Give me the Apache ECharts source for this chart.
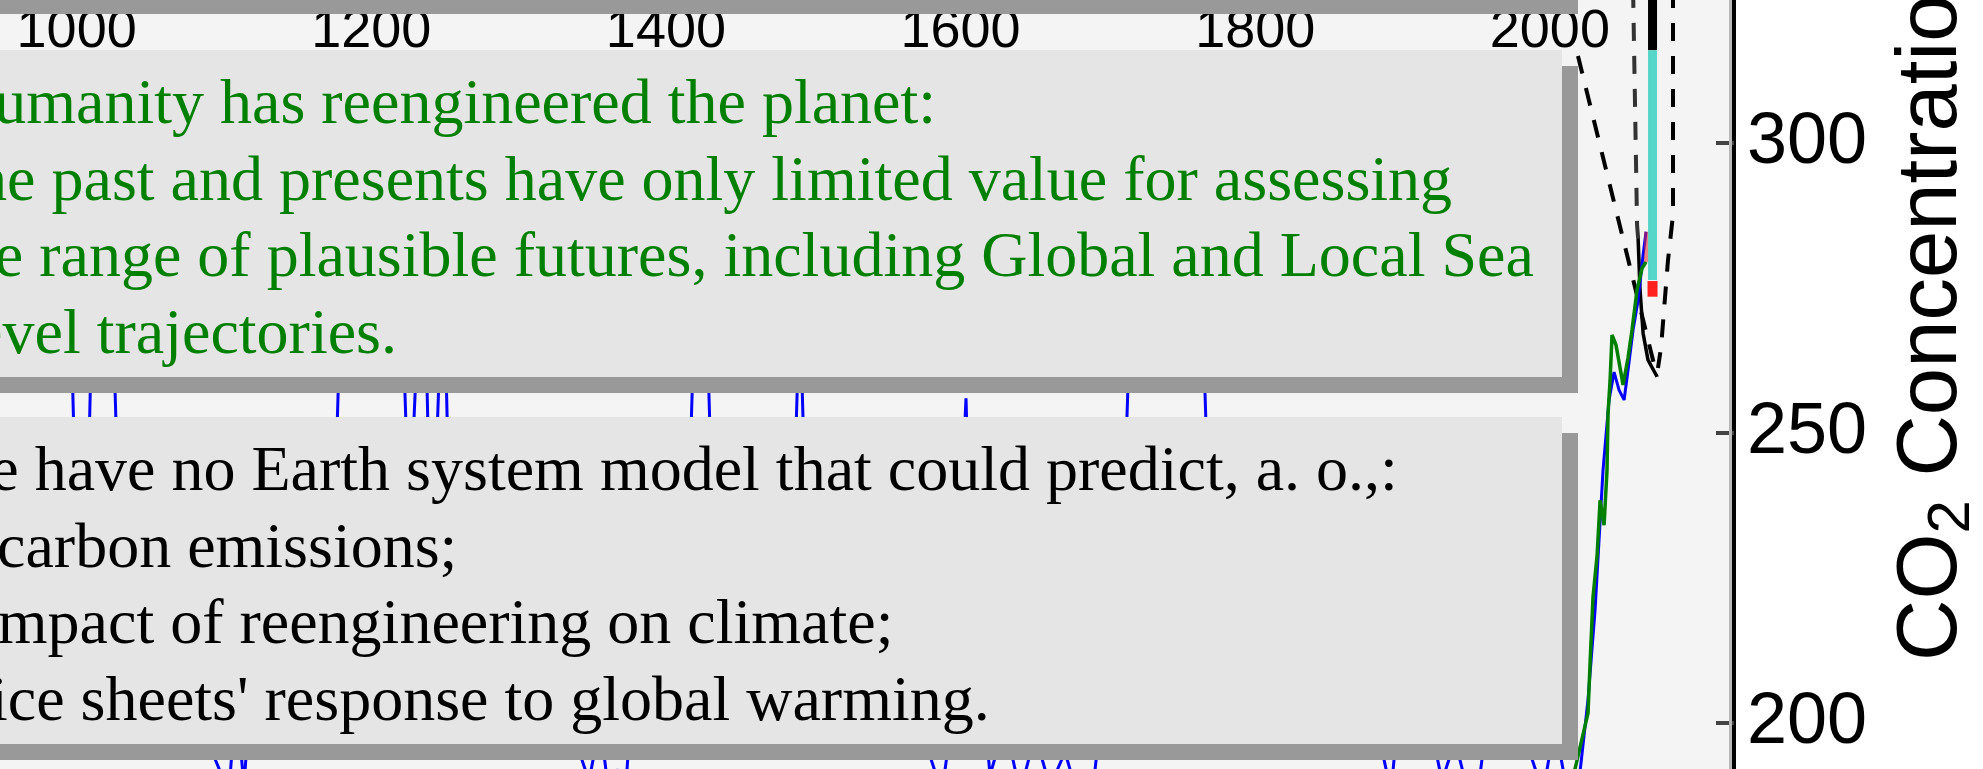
<!DOCTYPE html>
<html>
<head>
<meta charset="utf-8">
<script src="https://cdn.jsdelivr.net/npm/echarts@6/dist/echarts.min.js"></script>
<style>
  html, body { margin: 0; padding: 0; background: #fff; }
  #chart { width: 1983px; height: 769px; }
</style>
</head>
<body>
<div id="chart"></div>
<script>
// tick labels
var yearTicks = [1000, 1200, 1400, 1600, 1800, 2000];
var co2Ticks = [200, 250, 300];

// CO2 record (blue), [x, ppm]
var blueRecord = [
  [934.4, 275], [961.6, 268], [981.9, 280], [996.9, 262], [999.6, 235], [1003.7, 228],
  [1007.7, 240], [1010.4, 270], [1018.6, 262], [1024.0, 275], [1028.1, 240], [1043.0, 225],
  [1063.4, 210], [1083.8, 200], [1103.4, 188], [1108.2, 205], [1113.6, 189], [1119.1, 210],
  [1138.1, 222], [1158.4, 235], [1176.1, 245], [1178.8, 268], [1199.2, 280], [1222.2, 262],
  [1225.0, 240], [1227.7, 245], [1231.7, 268], [1237.2, 265], [1239.9, 235], [1244.0, 245],
  [1246.7, 265], [1250.1, 268], [1252.8, 238], [1273.8, 225], [1301.0, 215], [1328.1, 205],
  [1347.8, 190], [1355.3, 200], [1360.7, 189], [1367.5, 192], [1372.3, 187], [1377.0, 205],
  [1396.0, 225], [1416.4, 245], [1419.1, 268], [1423.2, 272], [1428.6, 262], [1431.3, 238],
  [1457.1, 228], [1487.0, 240], [1489.7, 262], [1491.7, 265], [1494.4, 240], [1525.0, 220],
  [1558.9, 210], [1587.4, 188], [1596.3, 205], [1601.7, 245], [1603.7, 256], [1606.4, 230],
  [1620.0, 191], [1630.2, 200], [1640.4, 188], [1650.6, 198], [1660.7, 189], [1670.9, 195],
  [1681.1, 186], [1691.3, 192], [1694.7, 200], [1704.9, 230], [1712.3, 248], [1715.0, 268],
  [1735.4, 282], [1755.8, 270], [1765.3, 262], [1768.0, 240], [1803.3, 228], [1844.0, 215],
  [1878.0, 205], [1892.2, 188], [1898.3, 205], [1918.7, 200], [1926.8, 190], [1935.7, 197],
  [1944.5, 188], [1952.6, 191], [1959.4, 205], [1979.8, 200], [1995.4, 188], [2003.5, 200],
  [2010.3, 190], [2019.1, 188.4], [2025.9, 204], [2030.7, 219.5], [2033.4, 231.6], [2036.1, 243.6],
  [2040.2, 255.7], [2043.6, 260.5], [2047.0, 257.4], [2050.4, 255.7], [2053.1, 260.9], [2056.5, 267.8],
  [2059.9, 272.9], [2063.3, 280.7], [2065.3, 284.7]
];

// green record
var greenRecord = [
  [2006.9, 186.7], [2017.1, 192.1], [2025.9, 201.7], [2027.3, 210.3], [2029.3, 221.7], [2032.1, 229.0],
  [2034.1, 238.4], [2036.8, 234.1], [2038.8, 243.6], [2039.5, 253.4], [2040.9, 259.1], [2042.2, 266.9],
  [2044.9, 265.2], [2049.7, 258.3], [2053.1, 263.0], [2055.8, 267.8], [2059.2, 274.7], [2062.6, 278.4],
  [2065.3, 279.5]
];

// black solid segment
var blackLine = [[2059.9, 283.6], [2061.2, 274.7], [2063.3, 267.2], [2066.6, 262.6], [2072.8, 259.7]];

// dashed scenario lines
var dashedLeft = [[2019.1, 315.0], [2072.8, 259.7]];
var dashedMid = [[2056.5, 326.4], [2059.2, 285.9], [2059.9, 283.6]];
var dashedRight = [[2083.6, 326.4], [2083.6, 287.6], [2080.2, 279.8], [2077.5, 271.2], [2075.5, 264.8], [2073.4, 261.2]];

// vertical range bar
var barBlack = [[2069.7, 330], [2069.7, 316.0]];
var barCyan = [[2069.7, 316.0], [2069.7, 276.4]];
var barRed = [[2069.7, 276.2], [2069.7, 273.5]];
var redMark = [[2065.3, 284.7], [2065.3, 279.5]];

// annotation texts: [text, left x]
var box1Lines = [
  ['Humanity has reengineered the planet:', -52],
  ['The past and presents have only limited value for assessing', -64],
  ['the range of plausible futures, including Global and Local Sea', -55],
  ['Level trajectories.', -65]
];
var box2Lines = [
  ['We have no Earth system model that could predict, a. o.,:', -65],
  ['carbon emissions;', -3],
  ['impact of reengineering on climate;', -20],
  ['ice sheets\' response to global warming.', -10]
];

var chart = echarts.init(document.getElementById('chart'));

function lineSeries(name, data, color, width, dash, z) {
  return {
    name: name,
    type: 'line',
    data: data,
    showSymbol: false,
    symbol: 'none',
    z: z || 2,
    lineStyle: { color: color, width: width, type: dash || 'solid', cap: 'butt' }
  };
}

var graphics = [
  { type: 'rect', z: 10, shape: { x: -10, y: -30, width: 1588, height: 44 }, style: { fill: '#999999' } },
  { type: 'rect', z: 10, shape: { x: -10, y: 66, width: 1588, height: 327 }, style: { fill: '#999999' } },
  { type: 'rect', z: 11, shape: { x: -10, y: 50, width: 1572, height: 327 }, style: { fill: '#e5e5e5' } },
  { type: 'rect', z: 10, shape: { x: -10, y: 433, width: 1588, height: 327 }, style: { fill: '#999999' } },
  { type: 'rect', z: 11, shape: { x: -10, y: 417, width: 1572, height: 327 }, style: { fill: '#e5e5e5' } },
  { type: 'rect', z: 10, shape: { x: 1729, y: 0, width: 3, height: 769 }, style: { fill: '#b8b8b8' } },
  {
    type: 'text', z: 12, x: 1882.5, y: 661, rotation: Math.PI / 2,
    style: {
      text: '{a|CO}{s|2}{a| Concentration (ppm)}',
      align: 'left', verticalAlign: 'top',
      rich: {
        a: { fontSize: 85, fontFamily: 'Liberation Sans', lineHeight: 100, verticalAlign: 'middle', fill: '#000' },
        s: { fontSize: 60, fontFamily: 'Liberation Sans', lineHeight: 60, verticalAlign: 'bottom', fill: '#000' }
      }
    }
  }
];

var box1Y = [106.5, 183, 259.5, 336];
box1Lines.forEach(function(l, i) {
  graphics.push({
    type: 'text', z: 12, x: l[1], y: box1Y[i],
    style: { text: l[0], fill: '#008000', fontSize: 64, fontFamily: 'Liberation Serif', align: 'left', verticalAlign: 'middle' }
  });
});
var box2Y = [473.5, 550, 626.5, 703];
box2Lines.forEach(function(l, i) {
  graphics.push({
    type: 'text', z: 12, x: l[1], y: box2Y[i],
    style: { text: l[0], fill: '#000000', fontSize: 64, fontFamily: 'Liberation Serif', align: 'left', verticalAlign: 'middle' }
  });
});

var option = {
  backgroundColor: '#ffffff',
  animation: false,
  grid: {
    left: -218, right: 249, top: -147, bottom: -244,
    show: true, backgroundColor: '#f4f4f4', borderWidth: 0,
    containLabel: false, outerBoundsMode: 'none'
  },
  xAxis: {
    type: 'value',
    position: 'top',
    offset: -179,
    min: 800,
    max: 2125,
    interval: 200,
    axisLine: { show: false },
    axisTick: { show: false },
    splitLine: { show: false },
    axisLabel: {
      margin: 0,
      verticalAlign: 'middle',
      fontFamily: 'Liberation Sans',
      fontSize: 54,
      color: '#000',
      formatter: function(v) { return yearTicks.indexOf(v) >= 0 ? String(v) : ''; }
    }
  },
  yAxis: {
    type: 'value',
    position: 'right',
    min: 150,
    max: 350,
    interval: 50,
    splitLine: { show: false },
    axisLine: { show: true, lineStyle: { color: '#000', width: 4 } },
    axisTick: { show: true, inside: true, length: 18, lineStyle: { color: '#444', width: 4 } },
    axisLabel: {
      margin: 13,
      fontFamily: 'Liberation Sans',
      fontSize: 72,
      color: '#000',
      formatter: function(v) { return co2Ticks.indexOf(v) >= 0 ? String(v) : ''; }
    }
  },
  series: [
    lineSeries('dashedMid', dashedMid, '#333333', 4, [18, 15], 2),
    lineSeries('dashedLeft', dashedLeft, '#000000', 4, [18, 15], 2),
    lineSeries('dashedRight', dashedRight, '#000000', 4, [18, 15], 2),
    lineSeries('black', blackLine, '#000000', 3.5, 'solid', 3),
    lineSeries('blue', blueRecord, '#0000ff', 3, 'solid', 4),
    lineSeries('green', greenRecord, '#008000', 3.5, 'solid', 5),
    lineSeries('barBlack', barBlack, '#000000', 9, 'solid', 6),
    lineSeries('barCyan', barCyan, '#55d6c9', 9, 'solid', 6),
    lineSeries('barRed', barRed, '#ff2020', 10, 'solid', 6),
    lineSeries('redMark', redMark, 'rgba(230,40,40,0.55)', 4, 'solid', 7)
  ],
  graphic: graphics
};

chart.setOption(option);
</script>
</body>
</html>
